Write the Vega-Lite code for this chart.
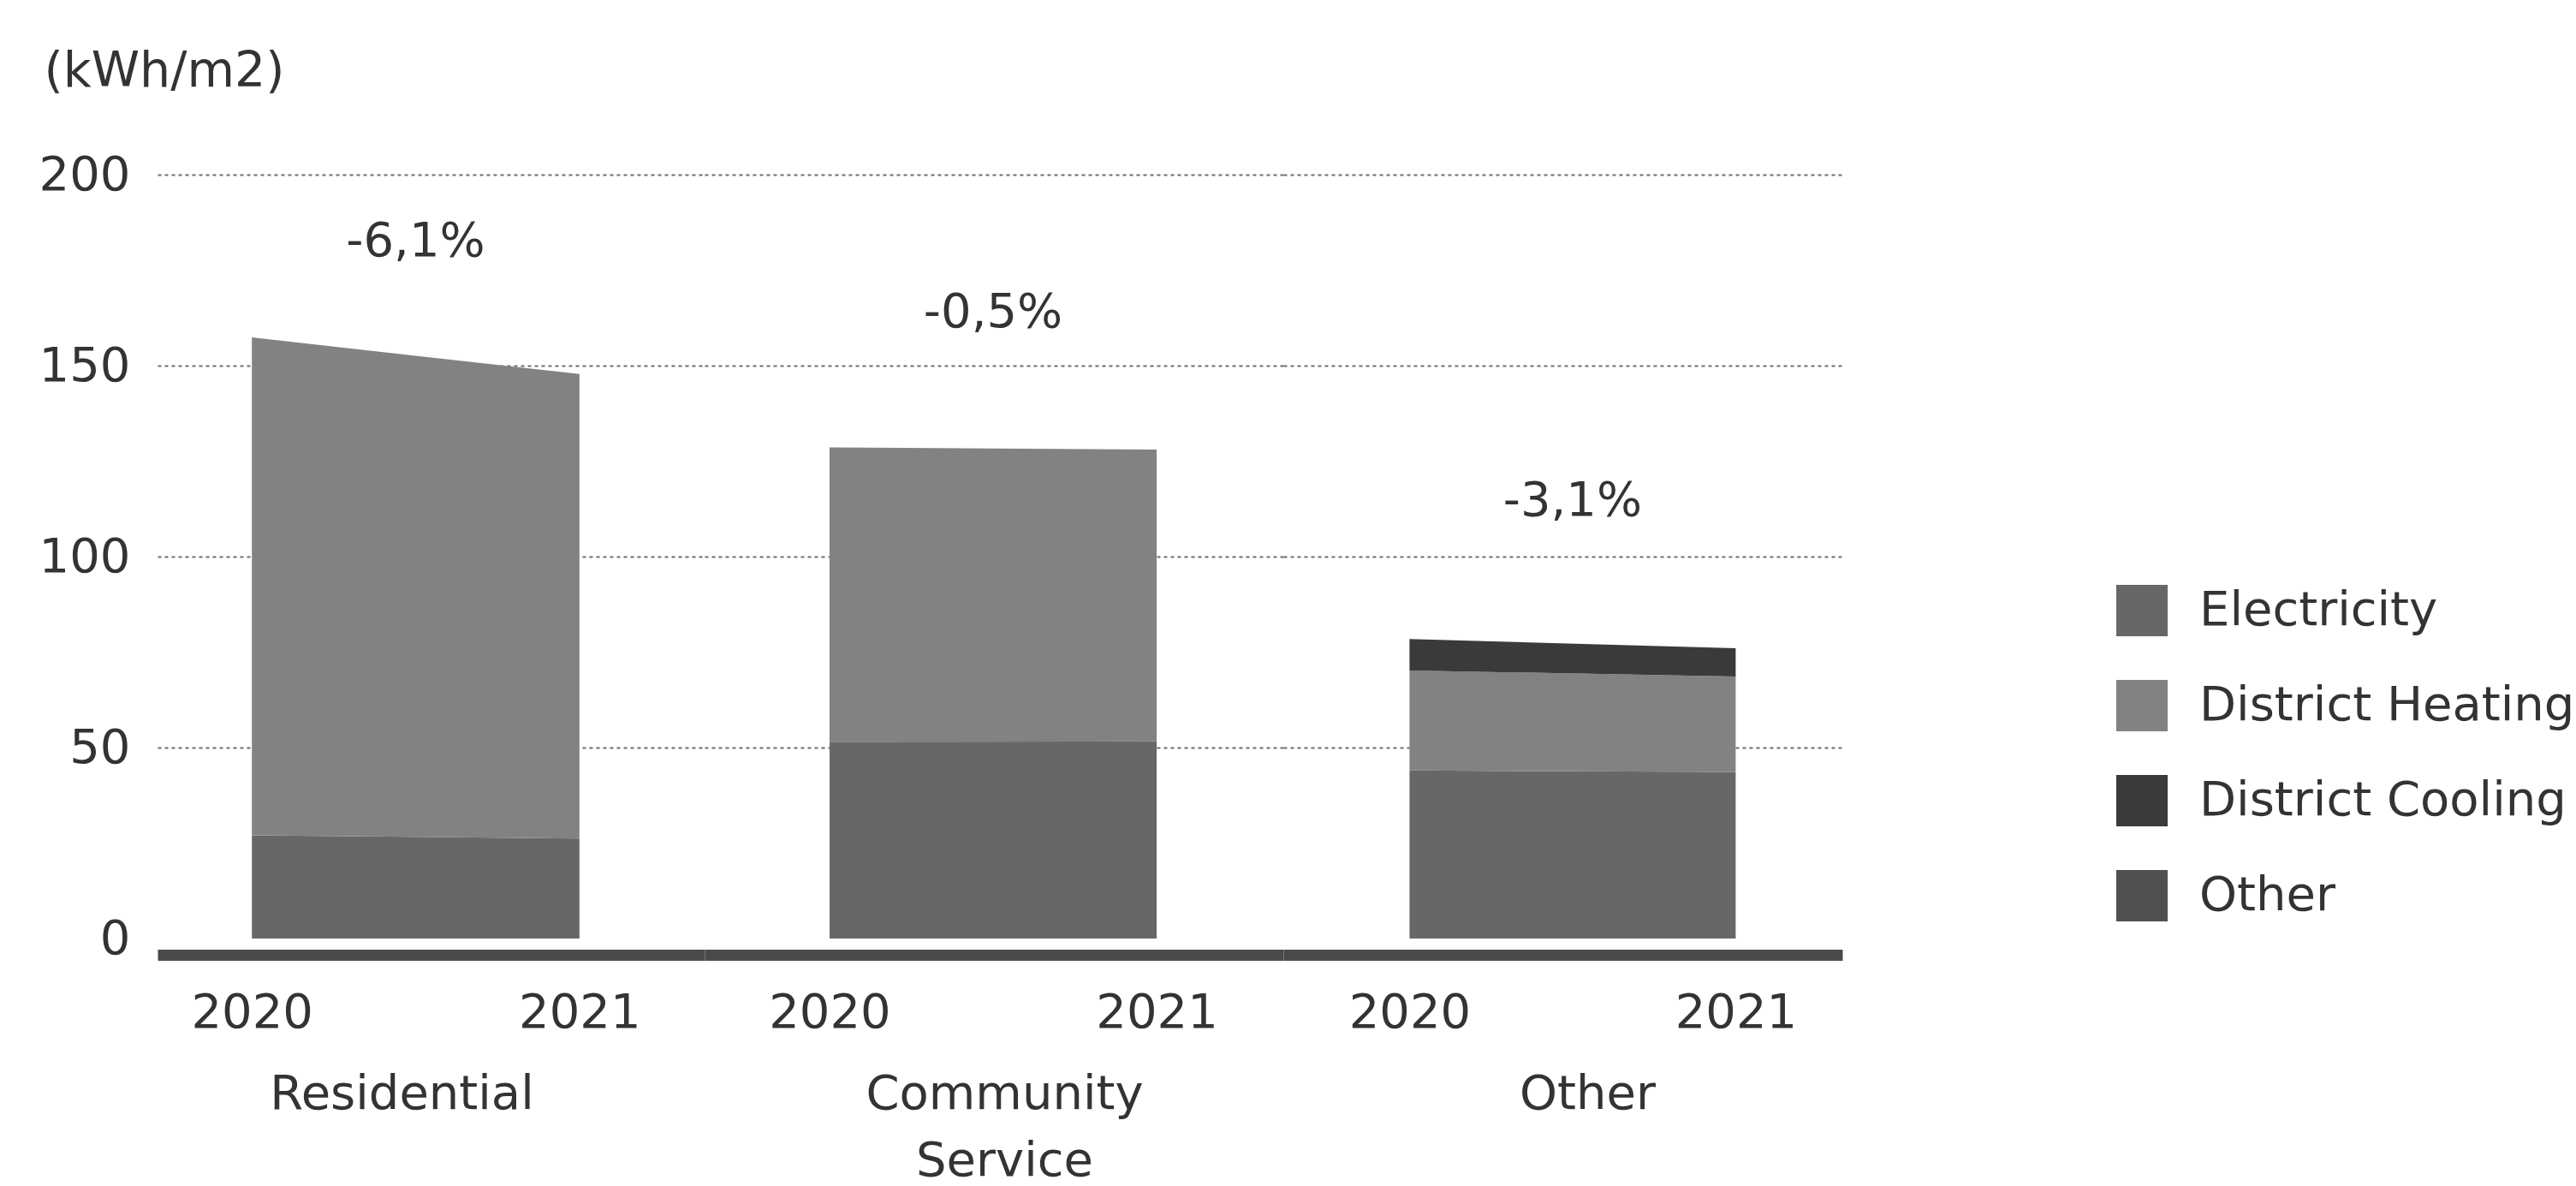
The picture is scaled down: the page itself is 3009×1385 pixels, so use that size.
{
  "$schema": "https://vega.github.io/schema/vega-lite/v6.json",
  "padding": {"left": 45, "top": 54, "right": 0, "bottom": 90},
  "background": "white",
  "datasets": {
    "energy": [
      {"category": "Residential", "year": 2020, "source": "Electricity", "value": 27.0},
      {"category": "Residential", "year": 2020, "source": "District Heating", "value": 130.4},
      {"category": "Residential", "year": 2021, "source": "Electricity", "value": 26.2},
      {"category": "Residential", "year": 2021, "source": "District Heating", "value": 121.6},
      {"category": "Community Service", "year": 2020, "source": "Electricity", "value": 51.5},
      {"category": "Community Service", "year": 2020, "source": "District Heating", "value": 77.1},
      {"category": "Community Service", "year": 2021, "source": "Electricity", "value": 51.6},
      {"category": "Community Service", "year": 2021, "source": "District Heating", "value": 76.4},
      {"category": "Other", "year": 2020, "source": "Electricity", "value": 44.0},
      {"category": "Other", "year": 2020, "source": "District Heating", "value": 26.2},
      {"category": "Other", "year": 2020, "source": "District Cooling", "value": 8.2},
      {"category": "Other", "year": 2021, "source": "Electricity", "value": 43.6},
      {"category": "Other", "year": 2021, "source": "District Heating", "value": 25.0},
      {"category": "Other", "year": 2021, "source": "District Cooling", "value": 7.4}
    ],
    "changes": [
      {"category": "Residential", "change": "-6,1%"},
      {"category": "Community Service", "change": "-0,5%"},
      {"category": "Other", "change": "-3,1%"}
    ]
  },
  "data": {"name": "energy"},
  "spacing": 0,
  "bounds": "flush",
  "hconcat": [
    {
      "width": 639,
      "height": 892,
      "transform": [{"filter": "datum.category === 'Residential'"}],
      "encoding": {
        "x": {"type": "quantitative", "scale": {"domain": [2019.712, 2021.382], "nice": false, "zero": false},
              "axis": {"values": [2020, 2021], "format": "d", "title": "Residential", "titleX": 285}},
        "y": {"type": "quantitative", "scale": {"domain": [0, 200], "nice": false},
              "axis": {"values": [0, 50, 100, 150, 200], "title": "(kWh/m2)", "titleAngle": 0, "titleAlign": "left", "titleBaseline": "middle",
                       "titleX": -133, "titleY": -121, "titleFontSize": 57,
                       "gridOpacity": {"condition": {"test": "datum.value === 0", "value": 0}, "value": 1}}}
      },
      "layer": [
        {
          "mark": {"type": "area", "interpolate": "linear"},
          "encoding": {
            "x": {"field": "year"},
            "y": {"field": "value", "stack": "zero"},
            "color": {"field": "source", "type": "nominal",
                      "scale": {"domain": ["Electricity", "District Heating", "District Cooling", "Other"], "range": ["#676767", "#828282", "#3a3a3a", "#505050"]},
                      "legend": {"title": null}},
            "order": {"field": "source", "sort": "descending"}
          }
        },
        {
          "transform": [
            {"aggregate": [{"op": "sum", "field": "value", "as": "total"}], "groupby": ["category", "year"]},
            {"joinaggregate": [{"op": "mean", "field": "year", "as": "mid"}], "groupby": ["category"]},
            {"filter": "datum.year === 2021"},
            {"lookup": "category", "from": {"data": {"name": "changes"}, "key": "category", "fields": ["change"]}}
          ],
          "mark": {"type": "text", "dy": -155, "fontSize": 56, "color": "#333333"},
          "encoding": {
            "x": {"field": "mid"},
            "y": {"field": "total"},
            "text": {"field": "change"}
          }
        }
      ]
    },
    {
      "width": 676,
      "height": 892,
      "transform": [{"filter": "datum.category === 'Community Service'"}],
      "encoding": {
        "x": {"type": "quantitative", "scale": {"domain": [2019.618, 2021.387], "nice": false, "zero": false},
              "axis": {"values": [2020, 2021], "format": "d", "title": ["Community", "Service"], "titleX": 350}},
        "y": {"type": "quantitative", "scale": {"domain": [0, 200], "nice": false},
              "axis": {"values": [0, 50, 100, 150, 200], "title": null, "labels": false,
                       "gridOpacity": {"condition": {"test": "datum.value === 0", "value": 0}, "value": 1}}}
      },
      "layer": [
        {
          "mark": {"type": "area", "interpolate": "linear"},
          "encoding": {
            "x": {"field": "year"},
            "y": {"field": "value", "stack": "zero"},
            "color": {"field": "source", "type": "nominal",
                      "scale": {"domain": ["Electricity", "District Heating", "District Cooling", "Other"], "range": ["#676767", "#828282", "#3a3a3a", "#505050"]},
                      "legend": {"title": null}},
            "order": {"field": "source", "sort": "descending"}
          }
        },
        {
          "transform": [
            {"aggregate": [{"op": "sum", "field": "value", "as": "total"}], "groupby": ["category", "year"]},
            {"joinaggregate": [{"op": "mean", "field": "year", "as": "mid"}], "groupby": ["category"]},
            {"filter": "datum.year === 2021"},
            {"lookup": "category", "from": {"data": {"name": "changes"}, "key": "category", "fields": ["change"]}}
          ],
          "mark": {"type": "text", "dy": -160, "fontSize": 56, "color": "#333333"},
          "encoding": {
            "x": {"field": "mid"},
            "y": {"field": "total"},
            "text": {"field": "change"}
          }
        }
      ]
    },
    {
      "width": 653,
      "height": 892,
      "transform": [{"filter": "datum.category === 'Other'"}],
      "encoding": {
        "x": {"type": "quantitative", "scale": {"domain": [2019.613, 2021.327], "nice": false, "zero": false},
              "axis": {"values": [2020, 2021], "format": "d", "title": "Other", "titleX": 355}},
        "y": {"type": "quantitative", "scale": {"domain": [0, 200], "nice": false},
              "axis": {"values": [0, 50, 100, 150, 200], "title": null, "labels": false,
                       "gridOpacity": {"condition": {"test": "datum.value === 0", "value": 0}, "value": 1}}}
      },
      "layer": [
        {
          "mark": {"type": "area", "interpolate": "linear"},
          "encoding": {
            "x": {"field": "year"},
            "y": {"field": "value", "stack": "zero"},
            "color": {"field": "source", "type": "nominal",
                      "scale": {"domain": ["Electricity", "District Heating", "District Cooling", "Other"], "range": ["#676767", "#828282", "#3a3a3a", "#505050"]},
                      "legend": {"title": null}},
            "order": {"field": "source", "sort": "descending"}
          }
        },
        {
          "transform": [
            {"aggregate": [{"op": "sum", "field": "value", "as": "total"}], "groupby": ["category", "year"]},
            {"joinaggregate": [{"op": "mean", "field": "year", "as": "mid"}], "groupby": ["category"]},
            {"filter": "datum.year === 2021"},
            {"lookup": "category", "from": {"data": {"name": "changes"}, "key": "category", "fields": ["change"]}}
          ],
          "mark": {"type": "text", "dy": -172, "fontSize": 56, "color": "#333333"},
          "encoding": {
            "x": {"field": "mid"},
            "y": {"field": "total"},
            "text": {"field": "change"}
          }
        }
      ]
    }
  ],
  "resolve": {"scale": {"x": "independent", "y": "shared", "color": "shared"}},
  "config": {
    "font": "DejaVu Sans",
    "view": {"stroke": null},
    "axis": {"labelColor": "#333333", "titleColor": "#333333", "titleFontWeight": "normal", "labelFont": "DejaVu Sans", "titleFont": "DejaVu Sans"},
    "axisX": {"offset": 19, "domainWidth": 13, "domainColor": "#4a4a4a", "ticks": false, "tickSize": 0, "labelPadding": 40,
              "labelFontSize": 56, "titleFontSize": 56, "titlePadding": 40, "titleLineHeight": 78, "grid": false, "labelFlush": false},
    "axisY": {"grid": true, "gridColor": "#6e6e6e", "gridDash": [4, 4], "gridWidth": 2, "domain": false, "ticks": false, "tickSize": 0,
              "labelPadding": 32, "labelFontSize": 56},
    "legend": {"orient": "none", "legendX": 2288, "legendY": 479, "symbolType": "square", "symbolSize": 3600, "symbolStrokeWidth": 0,
               "labelFontSize": 56, "labelColor": "#333333", "labelLimit": 1000, "rowPadding": 51, "labelOffset": 37, "padding": 0}
  }
}
